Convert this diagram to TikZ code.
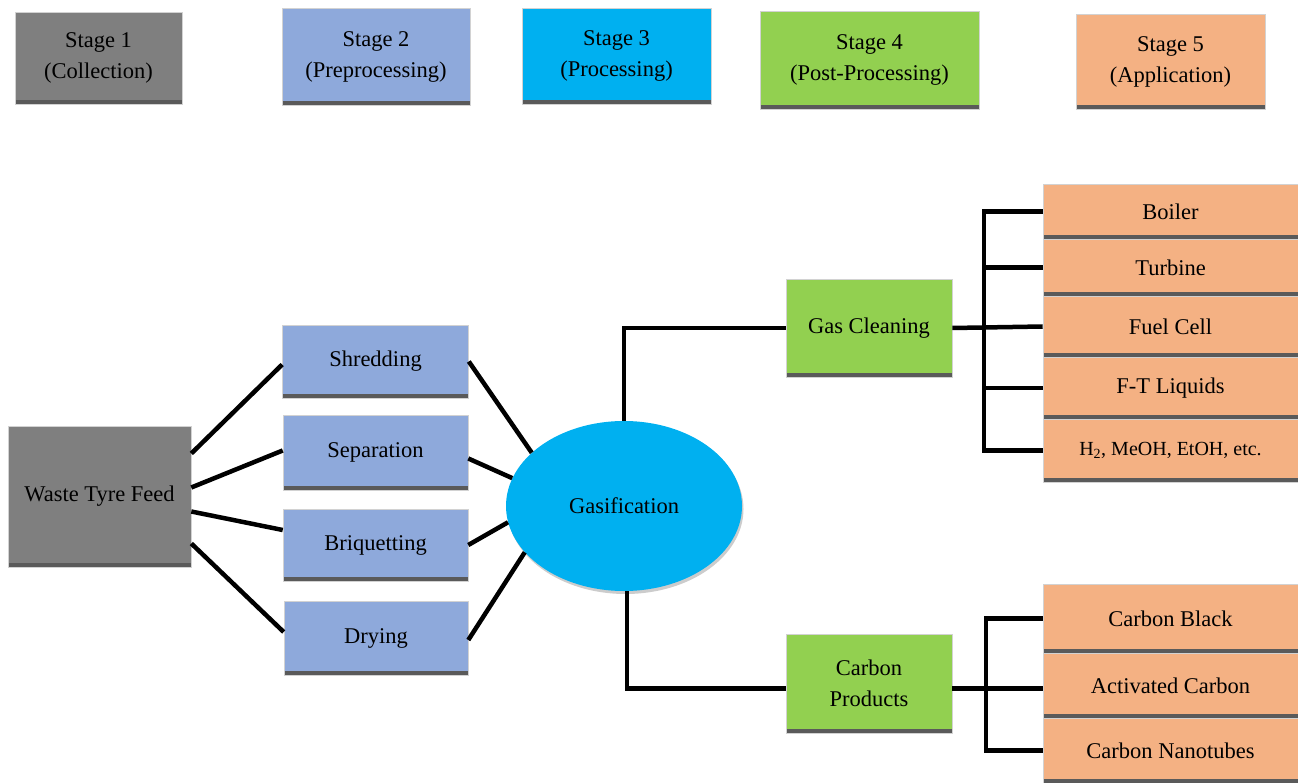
\documentclass[tikz,border=0pt]{standalone}
\usepackage{fontspec}
\setmainfont{Liberation Serif}
\usetikzlibrary{positioning,shapes.geometric,shadows}

\definecolor{stgray}{HTML}{7F7F7F}
\definecolor{stblue}{HTML}{8EA9DB}
\definecolor{stcyan}{HTML}{00B0F0}
\definecolor{stgreen}{HTML}{92D050}
\definecolor{storange}{HTML}{F4B183}
\definecolor{barcol}{HTML}{5A5A5A}

\begin{document}
\begin{tikzpicture}[
        x=1pt, y=-1pt,
        box/.style={rectangle, draw=gray!35, line width=0.6pt, inner sep=0pt,
          align=center, font=\fontsize{22.5}{31}\selectfont,
          path picture={\fill[barcol] (path picture bounding box.south west)
            rectangle ([yshift=4pt]path picture bounding box.south east);}},
        link/.style={line width=4.5pt, black},
      ]
      \useasboundingbox (0,0) rectangle (1298,783);

      % Stages
      \node[box, fill=stgray, minimum width=167, minimum height=92] (s1) at (98.5,58) {Stage 1\\(Collection)};
      \node[box, fill=stblue, minimum width=188, minimum height=97] (s2) at (376,56.5) {Stage 2\\(Preprocessing)};
      \node[box, fill=stcyan, minimum width=189, minimum height=96] (s3) at (616.5,56) {Stage 3\\(Processing)};
      \node[box, fill=stgreen, minimum width=219, minimum height=98] (s4) at (869.5,60) {Stage 4\\(Post-Processing)};
      \node[box, fill=storange, minimum width=189, minimum height=95] (s5) at (1170.5,61.5) {Stage 5\\(Application)};

      % Collection
      \node[box, fill=stgray, minimum width=183, minimum height=141] (feed) at (99.5,496.5) {Waste Tyre Feed};

      % Preprocessing
      \node[box, fill=stblue, minimum width=186, minimum height=73] (shred) at (375.5,361.5) {Shredding};
      \node[box, fill=stblue, minimum width=185, minimum height=75] (sep) at (375.5,452.5) {Separation};
      \node[box, fill=stblue, minimum width=185, minimum height=72] (briq) at (375.5,545) {Briquetting};
      \node[box, fill=stblue, minimum width=184, minimum height=74] (dry) at (376,638) {Drying};

      % Processing
      \node[ellipse, fill=stcyan, inner sep=0pt, minimum width=236, minimum height=170,
        font=\fontsize{22.5}{31}\selectfont,
        drop shadow={shadow xshift=1.5pt, shadow yshift=-3pt, fill=gray!80}] (gas) at (624,506) {Gasification};

      % Post-processing
      \node[box, fill=stgreen, minimum width=166, minimum height=98] (clean) at (869,328) {Gas Cleaning};
      \node[box, fill=stgreen, minimum width=166, minimum height=99] (carb) at (869,683.5) {Carbon\\Products};

      % Application
      \node[box, fill=storange, minimum width=255, minimum height=55] (boiler) at (1170.5,211.5) {Boiler};
      \node[box, fill=storange, minimum width=255, minimum height=57] (turb) at (1170.5,267.5) {Turbine};
      \node[box, fill=storange, minimum width=255, minimum height=61] (fuel) at (1170.5,326.5) {Fuel Cell};
      \node[box, fill=storange, minimum width=255, minimum height=62] (ft) at (1170.5,388) {F-T Liquids};
      \node[box, fill=storange, minimum width=255, minimum height=63, font=\fontsize{20}{25}\selectfont] (h2) at (1170.5,450.5) {H\textsubscript{2}, MeOH, EtOH, etc.};
      \node[box, fill=storange, minimum width=255, minimum height=69] (cblack) at (1170.5,618.5) {Carbon Black};
      \node[box, fill=storange, minimum width=255, minimum height=65] (act) at (1170.5,685.5) {Activated Carbon};
      \node[box, fill=storange, minimum width=255, minimum height=65] (tube) at (1170.5,750.5) {Carbon Nanotubes};

      % Feed to preprocessing
      \draw[link] ([yshift=43]feed.east) -- ([yshift=-3]shred.west);
      \draw[link] ([yshift=9]feed.east) -- ([yshift=2]sep.west);
      \draw[link] ([yshift=-15]feed.east) -- ([yshift=15]briq.west);
      \draw[link] ([yshift=-47]feed.east) -- ([yshift=6]dry.west);

      % Preprocessing to gasification
      \draw[link] (shred.east) -- (gas.150);
      \draw[link] ([yshift=-6]sep.east) -- (gas.166);
      \draw[link] (briq.east) -- (gas.188);
      \draw[link] ([yshift=-2]dry.east) -- (gas.205);

      % Gasification to post-processing
      \draw[link] (gas.north) -- (gas.north |- clean.west) -- (clean.west);
      \draw[link] ([xshift=3]gas.south) -- ([xshift=3,yshift=-5]gas.south |- carb.west) -- ([yshift=-5]carb.west);

      % Gas products
      \coordinate (busg) at (984,0);
      \draw[link] (clean.east) -- (fuel.west);
      \draw[link] (boiler.west) -- (boiler.west -| busg) -- (h2.west -| busg) -- (h2.west);
      \foreach \n in {turb,ft}
        \draw[link] (\n.west) -- (\n.west -| busg);

      % Carbon products
      \coordinate (busc) at (986,0);
      \draw[link] ([yshift=-5]carb.east) -- ([yshift=-3]act.west);
      \draw[link] (cblack.west) -- (cblack.west -| busc) -- (tube.west -| busc) -- (tube.west);
    \end{tikzpicture}
\end{document}
